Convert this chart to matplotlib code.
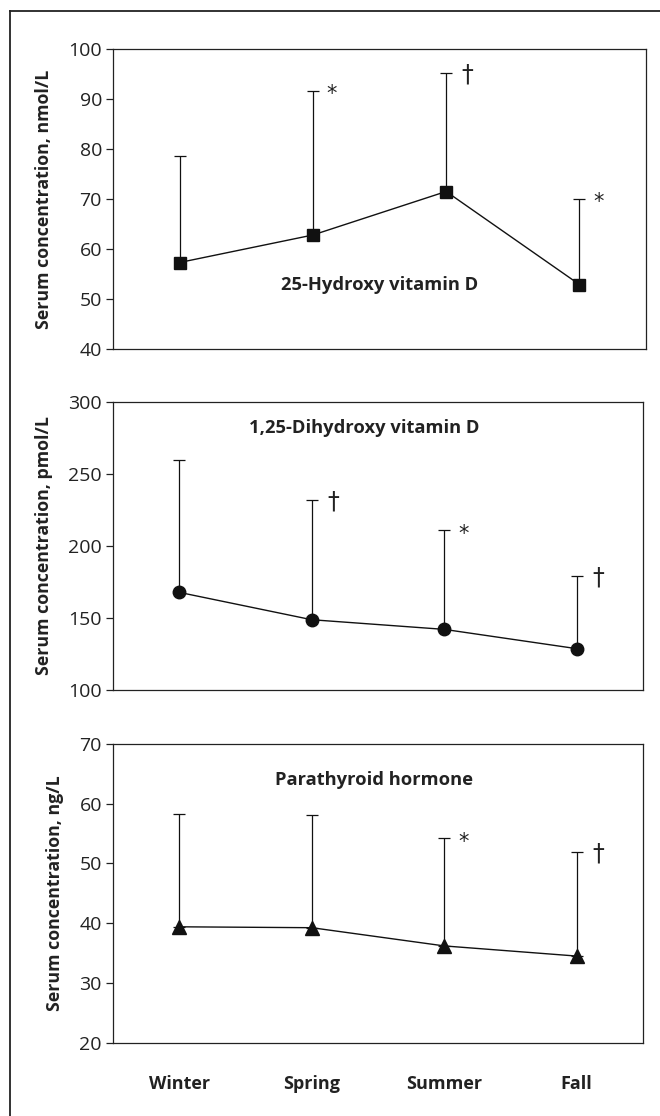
import numpy as np
import matplotlib.pyplot as plt
from matplotlib.lines import Line2D

# Seasons on the shared x axis
seasons = ['Winter', 'Spring', 'Summer', 'Fall']

# 25-hydroxy vitamin D, nmol/L (mean and upper error)
ohd_mean = [57.3, 62.8, 71.5, 52.9]
ohd_upper = [78.6, 91.7, 95.2, 70.1]
ohd_marks = ['', '*', '†', '*']

# 1,25-dihydroxy vitamin D, pmol/L
dhd_mean = [167.8, 148.8, 142.1, 128.7]
dhd_upper = [259.7, 232.2, 210.9, 179.4]
dhd_marks = ['', '†', '*', '†']

# parathyroid hormone, ng/L
pth_mean = [39.4, 39.25, 36.2, 34.5]
pth_upper = [58.3, 58.07, 54.2, 51.9]
pth_marks = ['', '', '*', '†']

plt.rcParams['font.family'] = ['Liberation Sans Narrow', 'Open Sans', 'DejaVu Sans']

fig = plt.figure(figsize=(6.6, 11.16), dpi=100)

# outer frame (only top and left edges are visible)
fig.add_artist(Line2D([9.5/660, 1.0], [1 - 10.5/1116] * 2, color='#222222', lw=1.3,
                      transform=fig.transFigure))
fig.add_artist(Line2D([9.5/660] * 2, [0, 1 - 10.5/1116], color='#222222', lw=1.3,
                      transform=fig.transFigure))

panels = [
    dict(rect=[113/660, 1 - 349/1116, 533/660, 300/1116], mean=ohd_mean, upper=ohd_upper,
         marks=ohd_marks, marker='s', ms=9, ylim=(40, 100), step=10,
         ylabel='Serum concentration, nmol/L', title='25-Hydroxy vitamin D', tpos=(0.50, 0.213)),
    dict(rect=[113/660, 1 - 690/1116, 530/660, 288/1116], mean=dhd_mean, upper=dhd_upper,
         marks=dhd_marks, marker='o', ms=9, ylim=(100, 300), step=50,
         ylabel='Serum concentration, pmol/L', title='1,25-Dihydroxy vitamin D', tpos=(0.474, 0.911)),
    dict(rect=[113/660, 1 - 1042.7/1116, 530/660, 298.7/1116], mean=pth_mean, upper=pth_upper,
         marks=pth_marks, marker='^', ms=10, ylim=(20, 70), step=10,
         ylabel='Serum concentration, ng/L', title='Parathyroid hormone', tpos=(0.493, 0.88)),
]

x = np.arange(len(seasons)) + 0.5

for i, p in enumerate(panels):
    ax = fig.add_axes(p['rect'])
    mean = np.array(p['mean'])
    upper = np.array(p['upper'])
    ax.errorbar(x, mean, yerr=[np.zeros_like(mean), upper - mean], fmt='none',
                ecolor='#111111', elinewidth=0.9, capsize=4.5, capthick=0.9)
    ax.plot(x, mean, color='#111111', lw=1.0, marker=p['marker'], ms=p['ms'],
            mfc='#111111', mec='#111111')
    for xi, up, m in zip(x, upper, p['marks']):
        if m == '*':
            ax.annotate(m, (xi, up), xytext=(10, -2.5), textcoords='offset points',
                        ha='left', va='center', fontsize=15, color='#222222',
                        family='DejaVu Sans')
        elif m == '†':
            ax.annotate(m, (xi, up), xytext=(11, -1), textcoords='offset points',
                        ha='left', va='center', fontsize=17, color='#222222',
                        family='DejaVu Sans')
    ax.set_xlim(0, 4)
    ax.set_ylim(*p['ylim'])
    ax.set_yticks(np.arange(p['ylim'][0], p['ylim'][1] + 1, p['step']))
    ax.tick_params(axis='y', direction='out', length=5, width=0.9, labelsize=14,
                   pad=3, colors='#222222')
    ax.set_ylabel(p['ylabel'], fontsize=12.8, fontweight='bold', labelpad=11,
                  color='#222222', family=['Open Sans', 'DejaVu Sans'])
    for s in ax.spines.values():
        s.set_linewidth(0.9)
        s.set_color('#222222')
    ax.text(p['tpos'][0], p['tpos'][1], p['title'], transform=ax.transAxes,
            ha='center', va='center', fontsize=13.2, fontweight='bold',
            color='#222222', family=['Open Sans', 'DejaVu Sans'])
    ax.set_xticks(x)
    if i == 2:
        ax.set_xticklabels(seasons, fontsize=13, fontweight='bold',
                           family=['Open Sans', 'DejaVu Sans'], color='#222222')
        ax.tick_params(axis='x', length=0, pad=23)
    else:
        ax.set_xticklabels([])
        ax.tick_params(axis='x', length=0)

fig.savefig('out.png', dpi=100)
